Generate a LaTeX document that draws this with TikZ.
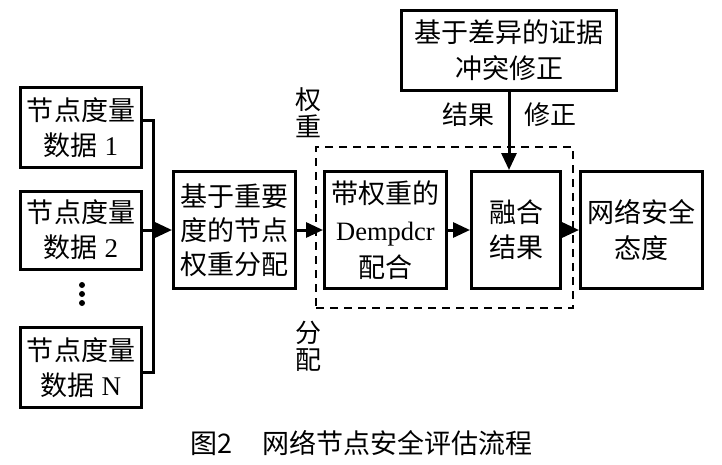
\documentclass[tikz,border=0pt]{standalone}
\usepackage{fontspec}
\setmainfont{Liberation Serif}
\newfontfamily\cjk{Noto Sans CJK SC}
\usetikzlibrary{arrows.meta}
\begin{document}
\begin{tikzpicture}[x=1pt,y=-1pt,
  box/.style={draw, line width=3pt, align=center, inner sep=0pt,
    font=\fontsize{27}{35}\selectfont},
  conn/.style={line width=3pt},
  arr/.style={line width=3pt, -{Triangle[length=17pt,width=15pt]}},
  lbl/.style={inner sep=0pt, align=center, font=\fontsize{26}{27}\selectfont\cjk},
  dotn/.style={circle, fill, inner sep=0pt, minimum size=6pt}]
\useasboundingbox (0,0) rectangle (722,464);
\fill[white] (0,0) rectangle (722,464);
% left data boxes
\node[box, minimum width=121pt, minimum height=80pt] (d1) at (81,127.5) {{\cjk 节点度量}\\{\cjk 数据} 1};
\node[box, minimum width=121pt, minimum height=78pt] (d2) at (81,230) {{\cjk 节点度量}\\{\cjk 数据} 2};
\node[box, minimum width=121pt, minimum height=80pt] (dN) at (81,367.5) {{\cjk 节点度量}\\{\cjk 数据} N};
\node[dotn] (p1) at (82,285) {};
\node[dotn] (p2) at (82,294) {};
\node[dotn] (p3) at (82,303) {};
% main row
\node[box, minimum width=122pt, minimum height=117pt, font=\fontsize{27}{34}\selectfont\cjk] (imp) at (234.5,230) {基于重要\\度的节点\\权重分配};
\node[box, minimum width=122pt, minimum height=117pt, font=\fontsize{27}{37}\selectfont] (dem) at (385.5,230) {{\cjk 带权重的}\\{\fontsize{26.5}{37}\selectfont Dempdcr}\\{\cjk 配合}};
\node[box, minimum width=89pt, minimum height=117pt, font=\fontsize{27}{35}\selectfont\cjk] (fus) at (516,230) {融合\\结果};
\node[box, minimum width=122pt, minimum height=117pt, font=\fontsize{27}{36}\selectfont\cjk] (net) at (641.5,230) {网络安全\\态度};
\node[box, minimum width=215pt, minimum height=80pt, font=\fontsize{27}{36}\selectfont\cjk] (top) at (509,50.5) {基于差异的证据\\冲突修正};
% dashed group
\node[draw, dashed, dash pattern=on 8pt off 6pt, line width=2.4pt, minimum width=257pt, minimum height=161pt, inner sep=0pt] (grp) at (444.5,227.5) {};
% labels
\node[lbl] (lq) at (308,113) {权\\重};
\node[lbl] (lf) at (308,346) {分\\配};
\node[lbl] (lr) at (468,115) {结果};
\node[lbl] (lx) at (550,115) {修正};
% bracket
\coordinate (bt) at (153,120);
\coordinate (bb) at (153,372);
\coordinate (bm) at (153,230);
\draw[conn] (d1.east |- bt) -- (bt) -- (bb) -- (dN.east |- bb);
\draw[conn] (d2.east) -- (bm);
\draw[arr] (bm) -- (imp.west);
\draw[arr] (imp.east) -- (dem.west);
\draw[arr] (dem.east) -- (fus.west);
\draw[arr] (fus.east) -- (net.west);
\draw[arr] (top.south) -- (top.south |- fus.north);
% caption
\node[inner sep=0pt, font=\fontsize{27}{30}\selectfont\cjk] (cap) at (361.5,443) {图2\hspace{30pt}网络节点安全评估流程};
\end{tikzpicture}
\end{document}
